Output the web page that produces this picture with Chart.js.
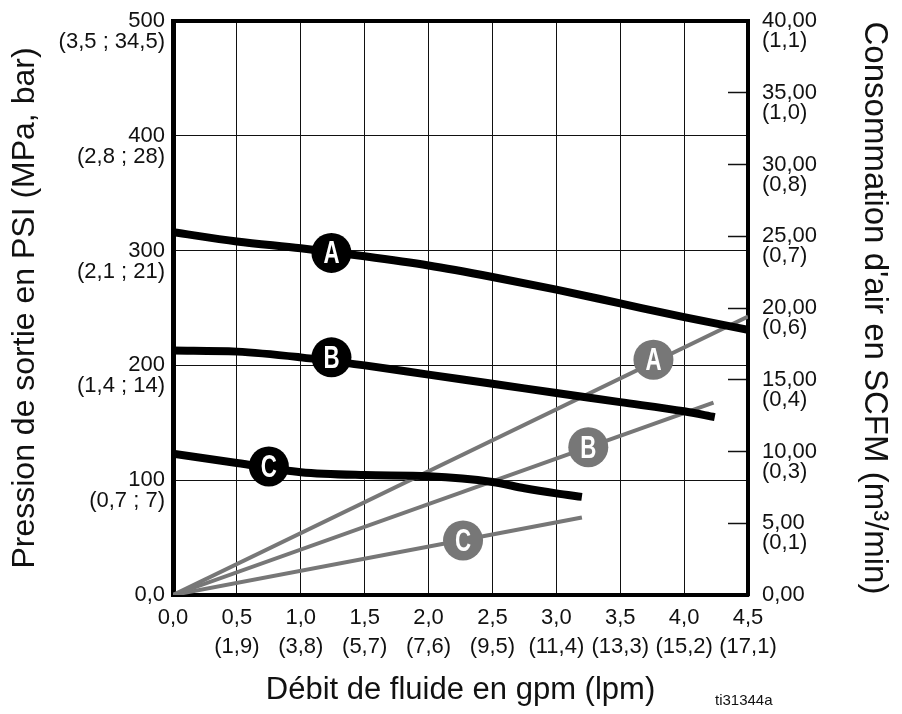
<!DOCTYPE html>
<html lang="fr">
<head>
<meta charset="utf-8">
<title>Débit de fluide en gpm (lpm)</title>
<script src="https://cdn.jsdelivr.net/npm/chart.js@4.4.1/dist/chart.umd.min.js"></script>
<style>
  html, body { margin: 0; padding: 0; background: #fff; }
  #myChart { display: block; }
</style>
</head>
<body>
<canvas id="myChart" width="902" height="714"></canvas>
<script>
// x axis: gpm with lpm underneath
const FLOW_TICKS = [0, 0.5, 1, 1.5, 2, 2.5, 3, 3.5, 4, 4.5];
const GPM_LABELS = ["0,0", "0,5", "1,0", "1,5", "2,0", "2,5", "3,0", "3,5", "4,0", "4,5"];
const LPM_LABELS = ["", "(1,9)", "(3,8)", "(5,7)", "(7,6)", "(9,5)", "(11,4)", "(13,3)", "(15,2)", "(17,1)"];

// left axis: PSI with (MPa ; bar)
const PSI_TICKS = [0, 100, 200, 300, 400, 500];
const PSI_LABELS = ["0,0", "100", "200", "300", "400", "500"];
const BAR_LABELS = ["", "(0,7 ; 7)", "(1,4 ; 14)", "(2,1 ; 21)", "(2,8 ; 28)", "(3,5 ; 34,5)"];

// right axis: SCFM with (m3/min)
const SCFM_TICKS = [0, 5, 10, 15, 20, 25, 30, 35, 40];
const SCFM_LABELS = ["0,00", "5,00", "10,00", "15,00", "20,00", "25,00", "30,00", "35,00", "40,00"];
const M3_LABELS = ["", "(0,1)", "(0,3)", "(0,4)", "(0,6)", "(0,7)", "(0,8)", "(1,0)", "(1,1)"];

// outlet pressure curves (PSI)
const FLOW_A = [0, 0.5, 1, 1.5, 2, 2.5, 3, 3.5, 4, 4.5];
const PSI_A = [316, 308, 302, 295, 287, 277, 266, 254, 242, 231];
const FLOW_B = [0, 0.5, 1, 1.5, 2, 2.5, 3, 3.5, 4, 4.24];
const PSI_B = [213, 212, 207, 200, 192, 184, 176, 168, 160, 155];
const FLOW_C = [0, 0.5, 1, 1.5, 2, 2.5, 2.75, 3, 3.2];
const PSI_C = [123, 115, 107, 104.5, 103.5, 98.5, 93, 88.5, 85.5];

// air consumption lines (SCFM)
const AIR_FLOW_A = [0, 4.5];
const SCFM_A = [0, 19.4];
const AIR_FLOW_B = [0, 4.23];
const SCFM_B = [0, 13.4];
const AIR_FLOW_C = [0, 3.2];
const SCFM_C = [0, 5.4];

// curve letters A, B, C
const CURVE_NAMES = ["A", "B", "C"];
const PSI_MARK_FLOW = [1.24, 1.24, 0.75];
const PSI_MARK_VALUE = [298, 207, 112];
const AIR_MARK_FLOW = [3.76, 3.25, 2.27];
const AIR_MARK_VALUE = [16.4, 10.3, 3.8];

const TEXT_COLOR = "#111";
const AIR_GREY = "#777";

Chart.defaults.font.family = "'Liberation Sans', Arial, Helvetica, sans-serif";
Chart.defaults.color = TEXT_COLOR;

/**
 * toPoints(xs, ys) - pairs two arrays into {x, y} points.
 */
function toPoints(xs, ys) {
    return xs.map((x, i) => ({ x: x, y: ys[i] }));
}

/**
 * fixedTicks(values) - afterBuildTicks callback that puts ticks on the given values.
 */
function fixedTicks(values) {
    return function (scale) {
        scale.ticks = values.map(v => ({ value: v }));
    };
}

/**
 * fixedSize(size) - afterFit callback: fixed thickness, no label overflow padding.
 */
function fixedSize(size) {
    return function (scale) {
        if (scale.isHorizontal()) {
            scale.height = size;
        } else {
            scale.width = size;
        }
        scale.paddingTop = 0;
        scale.paddingBottom = 0;
        scale.paddingLeft = 0;
        scale.paddingRight = 0;
    };
}

// white condensed letters in the circles
const letterPlugin = {
    id: "curveLetters",
    afterDatasetsDraw(chart) {
        const ctx = chart.ctx;
        chart.data.datasets.forEach((ds, i) => {
            if (!ds.letters) return;
            chart.getDatasetMeta(i).data.forEach((pt, j) => {
                ctx.save();
                ctx.fillStyle = "#fff";
                ctx.font = "bold 31px 'Liberation Sans', Arial, sans-serif";
                ctx.textAlign = "center";
                ctx.textBaseline = "middle";
                ctx.translate(pt.x, pt.y + 2);
                ctx.scale(0.72, 1);
                ctx.fillText(ds.letters[j], 0, 0);
                ctx.restore();
            });
        });
    }
};

// figure reference in the bottom right corner
const refPlugin = {
    id: "figureRef",
    afterDraw(chart) {
        const ctx = chart.ctx;
        ctx.save();
        ctx.fillStyle = TEXT_COLOR;
        ctx.font = "15px 'Liberation Sans', Arial, sans-serif";
        ctx.textAlign = "left";
        ctx.textBaseline = "alphabetic";
        ctx.fillText("ti31344a", 715, 705);
        ctx.restore();
    }
};

/**
 * PumpChart(chartId) - holds the chart drawn on the given canvas.
 */
function PumpChart(chartId) {
    this.chartId = chartId;
    this.chart = null;
}

PumpChart.prototype.init = function () {
    this.chart = this.generateChart();
};

/**
 * Datasets: marks first so they end up on top, then pressure curves, then air lines.
 */
PumpChart.prototype.generateDatasets = function () {
    const curve = (xs, ys) => ({
        data: toPoints(xs, ys),
        yAxisID: "y",
        showLine: true,
        borderColor: "#000",
        borderWidth: 8,
        pointRadius: 0,
        cubicInterpolationMode: "monotone",
        order: 2
    });
    const air = (xs, ys) => ({
        data: toPoints(xs, ys),
        yAxisID: "y2",
        showLine: true,
        borderColor: AIR_GREY,
        borderWidth: 4,
        pointRadius: 0,
        order: 3
    });
    return [
        {
            data: toPoints(PSI_MARK_FLOW, PSI_MARK_VALUE),
            yAxisID: "y",
            letters: CURVE_NAMES,
            pointRadius: 20,
            pointHoverRadius: 20,
            pointBorderWidth: 0,
            pointBackgroundColor: "#000",
            order: 0
        },
        {
            data: toPoints(AIR_MARK_FLOW, AIR_MARK_VALUE),
            yAxisID: "y2",
            letters: CURVE_NAMES,
            pointRadius: 20,
            pointHoverRadius: 20,
            pointBorderWidth: 0,
            pointBackgroundColor: AIR_GREY,
            order: 0
        },
        curve(FLOW_A, PSI_A),
        curve(FLOW_B, PSI_B),
        curve(FLOW_C, PSI_C),
        air(AIR_FLOW_A, SCFM_A),
        air(AIR_FLOW_B, SCFM_B),
        air(AIR_FLOW_C, SCFM_C)
    ];
};

PumpChart.prototype.generateScales = function () {
    return {
        x: {
            type: "linear",
            position: "bottom",
            min: 0,
            max: 4.5,
            afterBuildTicks: fixedTicks(FLOW_TICKS),
            afterFit: fixedSize(119),
            grid: { color: "#111", lineWidth: 1, drawTicks: false },
            border: { color: "#000", width: 4 },
            ticks: {
                padding: 8,
                autoSkip: false,
                maxRotation: 0,
                minRotation: 0,
                font: { size: 22, lineHeight: "29px" },
                callback: (v, i) => [GPM_LABELS[i], LPM_LABELS[i]]
            },
            title: {
                display: true,
                text: "Débit de fluide en gpm (lpm)",
                font: { size: 31 },
                padding: { top: 0, bottom: 5 }
            }
        },
        x2: {
            type: "linear",
            position: "top",
            min: 0,
            max: 4.5,
            afterFit: fixedSize(0),
            grid: { drawOnChartArea: false, drawTicks: false },
            border: { color: "#000", width: 4 },
            ticks: { display: false }
        },
        y: {
            type: "linear",
            position: "left",
            min: 0,
            max: 500,
            afterBuildTicks: fixedTicks(PSI_TICKS),
            afterFit: fixedSize(173),
            grid: { color: "#111", lineWidth: 1, drawTicks: false },
            border: { color: "#000", width: 5 },
            ticks: {
                padding: 8,
                font: { size: 22, lineHeight: "21px" },
                callback: (v, i) => i === 0 ? PSI_LABELS[0] : ["", PSI_LABELS[i], BAR_LABELS[i]]
            },
            title: {
                display: true,
                text: "Pression de sortie en PSI (MPa, bar)",
                font: { size: 32 },
                padding: { top: 6, bottom: 0 }
            }
        },
        y2: {
            type: "linear",
            position: "right",
            min: 0,
            max: 40,
            afterBuildTicks: fixedTicks(SCFM_TICKS),
            afterFit: fixedSize(154),
            grid: {
                drawOnChartArea: false,
                drawTicks: true,
                tickLength: -20,
                tickColor: "#111",
                tickWidth: 1.5
            },
            border: { color: "#000", width: 4 },
            ticks: {
                padding: 34,
                font: { size: 22, lineHeight: "20px" },
                callback: (v, i) => i === 0 ? SCFM_LABELS[0] : ["", SCFM_LABELS[i], M3_LABELS[i]]
            },
            title: {
                display: true,
                text: "Consommation d'air en SCFM (m³/min)",
                font: { size: 33 },
                padding: { top: 8, bottom: 0 }
            }
        }
    };
};

PumpChart.prototype.generateChart = function () {
    const ctx = document.getElementById(this.chartId).getContext("2d");
    return new Chart(ctx, {
        type: "scatter",
        data: { datasets: this.generateDatasets() },
        options: {
            responsive: false,
            animation: false,
            events: [],
            layout: { padding: { top: 21, left: 0, right: 0, bottom: 0 } },
            plugins: {
                legend: { display: false },
                tooltip: { enabled: false }
            },
            scales: this.generateScales()
        },
        plugins: [letterPlugin, refPlugin]
    });
};

const pumpChart = new PumpChart("myChart");
pumpChart.init();
</script>
</body>
</html>
